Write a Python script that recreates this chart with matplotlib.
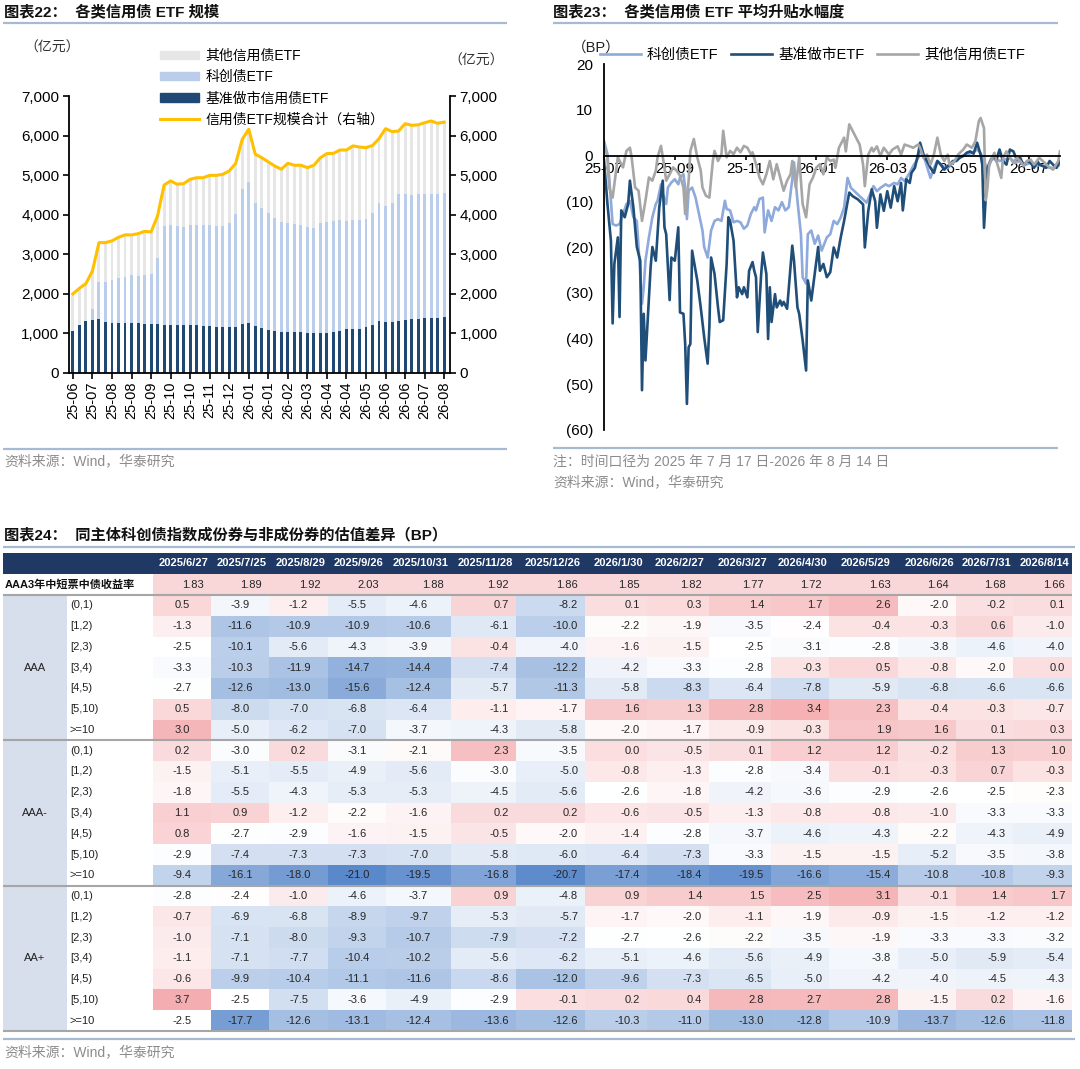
import numpy as np
import matplotlib
matplotlib.use("Agg")
import matplotlib.pyplot as plt
from matplotlib.colors import LinearSegmentedColormap, ListedColormap, TwoSlopeNorm
from matplotlib.patches import Patch, Rectangle
from matplotlib.lines import Line2D
from matplotlib.ticker import FuncFormatter

plt.rcParams['font.family'] = ['Liberation Sans', 'Noto Sans CJK SC', 'DejaVu Sans']

# ---------------- 图表22 数据 (亿元, 周度) ----------------
scale_labels = ["25-06", "25-07", "25-08", "25-08", "25-09", "25-10", "25-10", "25-11", "25-12", "26-01",
                "26-01", "26-02", "26-03", "26-04", "26-04", "26-05", "26-06", "26-06", "26-07", "26-08"]
bm_scale = [1050, 1220, 1310, 1340, 1355, 1280, 1270, 1270, 1270, 1255, 1255, 1245, 1240, 1230, 1220,
            1215, 1215, 1215, 1215, 1215, 1195, 1190, 1165, 1155, 1155, 1170, 1240, 1265, 1195, 1145,
            1085, 1060, 1035, 1035, 1035, 1030, 1005, 1005, 1010, 1010, 1030, 1070, 1105, 1110, 1110,
            1155, 1205, 1305, 1290, 1290, 1325, 1340, 1355, 1365, 1380, 1390, 1400, 1415]
kc_scale = [0, 0, 10, 270, 945, 1020, 1080, 1120, 1165, 1220, 1200, 1225, 1255, 1670, 2495,
            2525, 2500, 2475, 2515, 2515, 2535, 2540, 2550, 2560, 2645, 2840, 3400, 3560, 3110, 3030,
            2965, 2865, 2780, 2765, 2740, 2720, 2685, 2650, 2790, 2815, 2810, 2790, 2735, 2750, 2750,
            2730, 2845, 3000, 2930, 3015, 3190, 3175, 3135, 3150, 3150, 3140, 3130, 3125]
other_scale = [950, 920, 940, 970, 995, 995, 990, 1040, 1055, 1015, 1065, 1110, 1070, 1070, 1035,
               1115, 1055, 1095, 1165, 1205, 1205, 1265, 1280, 1305, 1305, 1290, 1265, 1335, 1225, 1265,
               1285, 1305, 1335, 1500, 1475, 1500, 1500, 1595, 1640, 1720, 1710, 1775, 1795, 1880, 1850,
               1810, 1700, 1615, 1955, 1795, 1600, 1785, 1770, 1755, 1795, 1840, 1780, 1800]

# ---------------- 图表23 数据 (BP, 交易日序号, 数值) ----------------
prem_ticks = [0, 41, 82, 123, 164, 205, 246]
prem_labels = ["25-07", "25-09", "25-11", "26-01", "26-03", "26-05", "26-07"]
kc_pts = [(0, 3.2), (2, 0.3), (4, -9.9), (5, -15), (7, -15.3), (9, -15), (11, -12.8), (13, -10.6), (15, -9.9),
          (17, -13.5), (19, -14.3), (20, -20), (22, -32.4), (23, -28.8), (24, -23), (26, -17.9), (28, -13.5),
          (30, -10.6), (31, -9.9), (33, -6.3), (34, -8.4), (36, -10.6), (37, -7), (39, -5.9), (41, -5.2),
          (43, -6.3), (44, -4.8), (46, -4.1), (47, -7), (48, -13.9), (49, -7.7), (51, -7), (53, -9.2),
          (55, -12.8), (57, -16.4), (58, -20), (60, -22.3), (62, -16.4), (64, -14.3), (66, -13.9), (68, -14.3),
          (70, -9.9), (71, -11.7), (73, -12), (75, -14.6), (77, -14.3), (79, -14.6), (81, -16), (83, -15.3),
          (85, -12.8), (87, -11.3), (88, -12), (90, -9.5), (92, -9.2), (93, -16.8), (95, -12), (97, -14.3),
          (99, -11.3), (101, -12), (103, -10.2), (105, -12), (107, -11.3), (109, -5.2), (110, -1.5), (112, -9.9),
          (114, -17.2), (115, -26.6), (117, -28), (118, -17.2), (120, -16.4), (122, -19.3), (124, -17.5),
          (126, -20.8), (129, -17.9), (131, -17.2), (133, -14.3), (135, -15), (137, -13.6), (139, -11.4),
          (141, -4.9), (143, -7.1), (145, -7.8), (148, -8.9), (150, -9.6), (152, -10.3), (154, -8.5),
          (156, -6.7), (158, -7.8), (160, -7.1), (163, -6.3), (165, -6.7), (168, -6), (170, -6.3), (172, -4.9),
          (174, -5.6), (177, -3.8), (179, -2.3), (182, -0.5), (183, 1.3), (186, -1.2), (189, -4.9), (191, -2.7),
          (193, -1.2), (196, -2.3), (199, -2.7), (201, -2), (204, -0.9), (207, -0.1), (210, 0.2), (213, 0.6),
          (216, 1.3), (218, 0.6), (220, -1.2), (222, -3.1), (224, -1.2), (226, -0.5), (229, -1.2), (232, -0.9),
          (235, -0.5), (238, -1.6), (241, -1.2), (244, -2), (247, -1.6), (250, -2.3), (252, -2), (255, -2.3),
          (258, -2.7), (261, -2.7), (264, -2)]
bm_pts = [(0, -1), (2, -10.6), (4, -18.6), (5, -36.7), (6, -23.7), (8, -17.9), (9, -35.3), (10, -12), (12, -13.5),
          (14, -10.6), (15, -5.5), (17, -11.3), (19, -20), (21, -23), (22, -51.3), (23, -34.6), (24, -44.8),
          (26, -31), (27, -24.4), (28, -20), (30, -23), (31, -17.2), (32, -11.3), (34, -5.5), (35, -15.7),
          (36, -17.2), (38, -31.6), (39, -22.3), (41, -23), (43, -15.7), (44, -34.3), (46, -34.6), (47, -41.2),
          (48, -54.3), (49, -41.9), (50, -41.2), (51, -20.8), (54, -27.3), (56, -33.2), (58, -39.7), (60, -45.5),
          (61, -37.5), (62, -22.3), (64, -25.9), (66, -33.2), (67, -36.4), (69, -36), (71, -23.7), (72, -13.5),
          (73, -14.3), (75, -18.6), (77, -31), (78, -28.8), (80, -30.3), (81, -28.8), (83, -31), (84, -25.2),
          (86, -23.3), (87, -25.2), (88, -26.6), (89, -38.6), (91, -25.9), (92, -21.2), (94, -25.9), (95, -40.1),
          (96, -28.8), (97, -36.4), (99, -30.3), (100, -33.2), (102, -31.7), (103, -32.8), (104, -32),
          (106, -33.5), (107, -28.8), (109, -19.7), (110, -23), (112, -33.2), (113, -34.6), (115, -40.4),
          (117, -47), (118, -27.3), (120, -31.7), (121, -28.8), (124, -20), (125, -25.2), (127, -23.7),
          (129, -26.6), (131, -25.5), (133, -20.1), (135, -22.3), (137, -18), (139, -14.3), (142, -8.1),
          (144, -8.9), (147, -9.6), (150, -10.7), (151, -20.1), (153, -12.1), (155, -7.4), (157, -10),
          (158, -15.8), (160, -8.5), (162, -12.1), (164, -7.8), (166, -11.4), (168, -6.7), (170, -10), (172, -6),
          (173, -12), (175, -5.2), (177, -6), (178, -3.8), (180, -2.7), (182, 0.6), (183, 2.8), (185, 0.2),
          (187, -1.2), (189, -2.7), (191, -3.8), (193, -1.2), (195, -2), (197, -3.1), (199, -2.3), (200, -2),
          (202, -1.2), (204, -1.2), (206, -0.5), (208, -0.1), (210, 0.6), (212, 0.9), (214, 0.4), (216, 2.8),
          (218, 0.2), (219, -2), (220, -15.8), (222, -2.7), (224, -0.9), (226, 0.2), (227, -1.2), (229, 1.3),
          (231, -1.2), (233, -2), (235, 1.3), (237, 0.9), (239, -0.9), (241, -0.5), (243, -2.3), (245, -1.2),
          (247, -1.6), (249, -2.7), (251, -1.2), (252, -2), (254, -2.3), (256, -2.7), (258, -1.2), (260, -2),
          (262, -2.7), (264, -1.2)]
ot_pts = [(0, 2.5), (2, -0.4), (3, -7), (5, -9.2), (7, -3.3), (8, -0.4), (10, -1.9), (11, -2.6), (13, 1), (15, 1.7),
          (16, -0.4), (18, -7), (20, -7.7), (22, -14.3), (24, -9.9), (26, -4.8), (28, -5.5), (30, -3.3), (31, -0.4),
          (33, 2.1), (35, -2.6), (36, -5.5), (38, -4.1), (40, -2.6), (42, -3.3), (44, -4.4), (46, -7), (47, -12.8),
          (49, -5.5), (50, 1), (52, 3.6), (54, -0.4), (56, -3.3), (57, -7), (59, -8.8), (61, -9.2), (63, -1.2),
          (64, 1), (66, -1.2), (68, 0.3), (69, 5.4), (71, -0.4), (73, 1), (75, 0.3), (77, 1.7), (79, 0.7), (81, 2.1),
          (83, 1.7), (85, 0.3), (86, 0.7), (88, -1.9), (90, -4.8), (92, -6.3), (94, -4.1), (96, -1.2), (98, -5.2),
          (100, -1.9), (102, -4.8), (104, -7.7), (106, -5.5), (108, -4.1), (109, -1.2), (111, -7), (113, -0.4),
          (115, -10.6), (117, -13.5), (119, -6.3), (121, -4.8), (123, -2.6), (125, -1.9), (127, -4.1), (129, -0.4),
          (131, -1.2), (133, -0.9), (134, -2.7), (136, 1.7), (139, 3.9), (140, 0.9), (142, 6.8), (145, 4.6),
          (148, 2.4), (150, -2), (151, -6.7), (153, 0.2), (155, 1.7), (156, 0.9), (158, 2), (160, -0.1), (162, 1.7),
          (165, 0.2), (167, 1.3), (170, 2), (172, 0.2), (174, 2.4), (177, 2), (179, 1.7), (182, 2.4), (183, 1.7),
          (185, -0.5), (187, 0.2), (189, -2), (191, 0.2), (193, 3.9), (195, 0.2), (197, -1.2), (199, 0.2), (200, -2),
          (203, -1.2), (205, 0.2), (208, 1.3), (210, 2.4), (213, 1.7), (215, 3.1), (217, 7.5), (218, 8.2), (220, 6),
          (221, -9.8), (222, -7.1), (223, -2), (226, 0.6), (227, -0.9), (230, -4.9), (231, -0.5), (233, 0.9),
          (235, -0.5), (237, -1.6), (239, -0.5), (241, -1.2), (243, -2.3), (245, -1.2), (247, -0.9), (249, -2),
          (252, -0.5), (254, -1.2), (257, -2.3), (260, -3.1), (263, -1.2), (264, 0.9)]

# ---------------- 图表24 数据 ----------------
tbl_dates = ["2025/6/27", "2025/7/25", "2025/8/29", "2025/9/26", "2025/10/31", "2025/11/28", "2025/12/26",
             "2026/1/30", "2026/2/27", "2026/3/27", "2026/4/30", "2026/5/29", "2026/6/26", "2026/7/31", "2026/8/14"]
aaa3_yield = [1.83, 1.89, 1.92, 2.03, 1.88, 1.92, 1.86, 1.85, 1.82, 1.77, 1.72, 1.63, 1.64, 1.68, 1.66]
tenors = ["(0,1)", "[1,2)", "[2,3)", "[3,4)", "[4,5)", "[5,10)", ">=10"]
ratings = ["AAA", "AAA-", "AA+"]
diff_aaa = [
    [0.5, -3.9, -1.2, -5.5, -4.6, 0.7, -8.2, 0.1, 0.3, 1.4, 1.7, 2.6, -2.0, -0.2, 0.1],
    [-1.3, -11.6, -10.9, -10.9, -10.6, -6.1, -10.0, -2.2, -1.9, -3.5, -2.4, -0.4, -0.3, 0.6, -1.0],
    [-2.5, -10.1, -5.6, -4.3, -3.9, -0.4, -4.0, -1.6, -1.5, -2.5, -3.1, -2.8, -3.8, -4.6, -4.0],
    [-3.3, -10.3, -11.9, -14.7, -14.4, -7.4, -12.2, -4.2, -3.3, -2.8, -0.3, 0.5, -0.8, -2.0, 0.0],
    [-2.7, -12.6, -13.0, -15.6, -12.4, -5.7, -11.3, -5.8, -8.3, -6.4, -7.8, -5.9, -6.8, -6.6, -6.6],
    [0.5, -8.0, -7.0, -6.8, -6.4, -1.1, -1.7, 1.6, 1.3, 2.8, 3.4, 2.3, -0.4, -0.3, -0.7],
    [3.0, -5.0, -6.2, -7.0, -3.7, -4.3, -5.8, -2.0, -1.7, -0.9, -0.3, 1.9, 1.6, 0.1, 0.3],
]
diff_aaa_minus = [
    [0.2, -3.0, 0.2, -3.1, -2.1, 2.3, -3.5, 0.0, -0.5, 0.1, 1.2, 1.2, -0.2, 1.3, 1.0],
    [-1.5, -5.1, -5.5, -4.9, -5.6, -3.0, -5.0, -0.8, -1.3, -2.8, -3.4, -0.1, -0.3, 0.7, -0.3],
    [-1.8, -5.5, -4.3, -5.3, -5.3, -4.5, -5.6, -2.6, -1.8, -4.2, -3.6, -2.9, -2.6, -2.5, -2.3],
    [1.1, 0.9, -1.2, -2.2, -1.6, 0.2, 0.2, -0.6, -0.5, -1.3, -0.8, -0.8, -1.0, -3.3, -3.3],
    [0.8, -2.7, -2.9, -1.6, -1.5, -0.5, -2.0, -1.4, -2.8, -3.7, -4.6, -4.3, -2.2, -4.3, -4.9],
    [-2.9, -7.4, -7.3, -7.3, -7.0, -5.8, -6.0, -6.4, -7.3, -3.3, -1.5, -1.5, -5.2, -3.5, -3.8],
    [-9.4, -16.1, -18.0, -21.0, -19.5, -16.8, -20.7, -17.4, -18.4, -19.5, -16.6, -15.4, -10.8, -10.8, -9.3],
]
diff_aa_plus = [
    [-2.8, -2.4, -1.0, -4.6, -3.7, 0.9, -4.8, 0.9, 1.4, 1.5, 2.5, 3.1, -0.1, 1.4, 1.7],
    [-0.7, -6.9, -6.8, -8.9, -9.7, -5.3, -5.7, -1.7, -2.0, -1.1, -1.9, -0.9, -1.5, -1.2, -1.2],
    [-1.0, -7.1, -8.0, -9.3, -10.7, -7.9, -7.2, -2.7, -2.6, -2.2, -3.5, -1.9, -3.3, -3.3, -3.2],
    [-1.1, -7.1, -7.7, -10.4, -10.2, -5.6, -6.2, -5.1, -4.6, -5.6, -4.9, -3.8, -5.0, -5.9, -5.4],
    [-0.6, -9.9, -10.4, -11.1, -11.6, -8.6, -12.0, -9.6, -7.3, -6.5, -5.0, -4.2, -4.0, -4.5, -4.3],
    [3.7, -2.5, -7.5, -3.6, -4.9, -2.9, -0.1, 0.2, 0.4, 2.8, 2.7, 2.8, -1.5, 0.2, -1.6],
    [-2.5, -17.7, -12.6, -13.1, -12.4, -13.6, -12.6, -10.3, -11.0, -13.0, -12.8, -10.9, -13.7, -12.6, -11.8],
]

# ---------------- 样式 ----------------
W, H = 1080, 1069
NAVY = '#1F4873'
LBLUE = '#BACDEA'
LGRAY = '#E6E6E6'
GOLD = '#FFC000'
RULE = '#A7BAD3'
SRC = '#8C8C8C'

fig = plt.figure(figsize=(W / 100, H / 100), dpi=100)
bg = fig.add_axes([0, 0, 1, 1])
bg.set_xlim(0, W)
bg.set_ylim(H, 0)
bg.axis('off')

title_kw = dict(fontsize=11, fontweight='bold', va='center', ha='left', color='#111111')
bg.text(4, 12, "图表22：  各类信用债 ETF 规模", **title_kw)
bg.text(553, 12, "图表23：  各类信用债 ETF 平均升贴水幅度", **title_kw)
bg.text(4, 535, "图表24：  同主体科创债指数成份券与非成份券的估值差异（BP）", **title_kw)
for x0, x1, y in [(3, 507, 23), (553, 1058, 23), (3, 507, 449), (553, 1058, 448), (3, 1075, 547), (3, 1075, 1039)]:
    bg.plot([x0, x1], [y, y], color=RULE, lw=1.6, solid_capstyle='butt')
src_kw = dict(fontsize=10, color=SRC, va='center', ha='left')
bg.text(4, 461, "资料来源：Wind，华泰研究", **src_kw)
bg.text(553, 462, "注：时间口径为 2025 年 7 月 17 日-2026 年 8 月 14 日", **src_kw)
bg.text(553, 482, "资料来源：Wind，华泰研究", **src_kw)
bg.text(4, 1052, "资料来源：Wind，华泰研究", **src_kw)

# ---------------- 图表22 ----------------
bm = np.array(bm_scale)
kc = np.array(kc_scale)
ot = np.array(other_scale)
total = bm + kc + ot
x = np.arange(len(bm))

ax1 = fig.add_axes([69 / W, 1 - 373 / H, 381 / W, 277 / H])
ax1.patch.set_visible(False)
ax1.bar(x, bm, width=0.45, color=NAVY, zorder=2)
ax1.bar(x, kc, width=0.45, bottom=bm, color=LBLUE, zorder=2)
ax1.bar(x, ot, width=0.45, bottom=bm + kc, color=LGRAY, zorder=2)
ax1.set_xlim(-0.6, len(x) - 0.1)
ax1.set_ylim(0, 7000)
ax1.set_yticks(range(0, 7001, 1000))
ax1.yaxis.set_major_formatter(FuncFormatter(lambda v, p: f"{int(v):,}"))
ax1.set_xticks(x[::3])
ax1.set_xticklabels(scale_labels, rotation=90, fontsize=10.5)
ax1.tick_params(axis='y', direction='out', length=4, labelsize=11, pad=3, width=1.2)
ax1.tick_params(axis='x', direction='out', length=4, pad=2, width=1.2)
for s in ['top', 'right']:
    ax1.spines[s].set_visible(False)
for s in ['left', 'bottom']:
    ax1.spines[s].set_linewidth(1.3)

ax1r = ax1.twinx()
ax1r.plot(x, total, color=GOLD, lw=2.2, zorder=3)
ax1r.set_ylim(0, 7000)
ax1r.set_yticks(range(0, 7001, 1000))
ax1r.yaxis.set_major_formatter(FuncFormatter(lambda v, p: f"{int(v):,}"))
ax1r.tick_params(axis='y', direction='out', length=4, labelsize=11, pad=3, width=1.2)
for s in ['top', 'left', 'bottom']:
    ax1r.spines[s].set_visible(False)
ax1r.spines['right'].set_linewidth(1.3)

bg.text(52, 48, "（亿元）", fontsize=10, ha='center', va='center', color='#333333')
bg.text(476, 61, "（亿元）", fontsize=10, ha='center', va='center', color='#333333')

h22 = [Patch(color=LGRAY), Patch(color=LBLUE), Patch(color=NAVY), Line2D([], [], color=GOLD, lw=2.2)]
l22 = ["其他信用债ETF", "科创债ETF", "基准做市信用债ETF", "信用债ETF规模合计（右轴）"]
ax1r.legend(h22, l22, loc='upper left', bbox_to_anchor=(160 / W, 1 - 49 / H), bbox_transform=fig.transFigure,
            frameon=False, fontsize=10, handlelength=2.8, handleheight=0.55, labelspacing=0.52,
            handletextpad=0.45, borderpad=0, borderaxespad=0)

# ---------------- 图表23 ----------------
kc_day, kc_bp = zip(*kc_pts)
bm_day, bm_bp = zip(*bm_pts)
ot_day, ot_bp = zip(*ot_pts)

ax2 = fig.add_axes([604 / W, 1 - 430 / H, 456 / W, 366 / H])
ax2.patch.set_visible(False)
ax2.plot(kc_day, kc_bp, color='#8EA9DB', lw=1.9, label="科创债ETF")
ax2.plot(bm_day, bm_bp, color='#1F4E79', lw=1.9, label="基准做市ETF")
ax2.plot(ot_day, ot_bp, color='#A6A6A6', lw=1.9, label="其他信用债ETF")
ax2.set_xlim(0, 264)
ax2.set_ylim(-60, 20)
ax2.set_yticks(range(-60, 21, 10))
ax2.yaxis.set_major_formatter(FuncFormatter(lambda v, p: f"({abs(int(v))})" if v < 0 else f"{int(v)}"))
ax2.tick_params(axis='y', length=0, labelsize=11, pad=8)
ax2.spines['bottom'].set_position(('data', 0))
ax2.spines['bottom'].set_linewidth(1.3)
ax2.spines['left'].set_linewidth(1.3)
for s in ['top', 'right']:
    ax2.spines[s].set_visible(False)
ax2.set_xticks(prem_ticks)
ax2.set_xticklabels(prem_labels)
ax2.tick_params(axis='x', direction='out', length=3, labelsize=11, pad=2, width=1.2)
bg.text(596, 48, "（BP）", fontsize=10.5, ha='center', va='center', color='#222222')
ax2.legend(loc='center left', bbox_to_anchor=(600 / W, 1 - 55 / H), bbox_transform=fig.transFigure, ncol=3,
           frameon=False, fontsize=10.5, handlelength=2.8, handletextpad=0.4, columnspacing=0.9,
           borderpad=0, borderaxespad=0)

# ---------------- 图表24 表格 ----------------
col_edges = np.array([153, 211, 269, 328, 386, 451, 516, 585, 647, 709, 771, 829, 898, 956, 1013, 1072])
tbl_left, grp_right = 3, 67
hdr_top, hdr_bot, yld_bot, tbl_bot = 553, 574, 595, 1031
grid = np.array(diff_aaa + diff_aaa_minus + diff_aa_plus)
nrows = grid.shape[0]
row_edges = np.linspace(yld_bot, tbl_bot, nrows + 1)
rh = row_edges[1] - row_edges[0]

bg.add_patch(Rectangle((tbl_left, hdr_top), col_edges[-1] - tbl_left, hdr_bot - hdr_top, color='#203864', lw=0))
for j, d in enumerate(tbl_dates):
    bg.text((col_edges[j] + col_edges[j + 1]) / 2 + 2, (hdr_top + hdr_bot) / 2, d, color='white',
            fontsize=8, fontweight='bold', ha='center', va='center')

bg.pcolormesh(col_edges, [hdr_bot, yld_bot], np.array([aaa3_yield]), cmap=ListedColormap(['#F9D6D8']))
bg.text(tbl_left + 2, (hdr_bot + yld_bot) / 2, "AAA3年中短票中债收益率", fontsize=8, fontweight='bold',
        ha='left', va='center', color='#111111')
for j, v in enumerate(aaa3_yield):
    bg.text(col_edges[j + 1] - 7, (hdr_bot + yld_bot) / 2, f"{v:.2f}", fontsize=8, ha='right', va='center',
            color='#262626')

cmap = LinearSegmentedColormap.from_list('tbl', ['#5A89CB', '#FFFFFF', '#F4ADB0'])
norm = TwoSlopeNorm(vmin=grid.min(), vcenter=-2.5, vmax=grid.max())
bg.pcolormesh(col_edges, row_edges, grid, cmap=cmap, norm=norm)

for g, name in enumerate(ratings):
    y0 = row_edges[g * 7]
    bg.add_patch(Rectangle((tbl_left, y0), grp_right - tbl_left, 7 * rh, color='#D7DEEC', lw=0))
    bg.text((tbl_left + grp_right) / 2, y0 + 3.5 * rh, name, fontsize=8, ha='center', va='center', color='#222222')
    for k, t in enumerate(tenors):
        bg.text(grp_right + 3, y0 + (k + 0.5) * rh, t, fontsize=8, ha='left', va='center', color='#222222')

for i in range(nrows):
    yc = (row_edges[i] + row_edges[i + 1]) / 2
    for j in range(grid.shape[1]):
        txt = f"{grid[i, j]:.1f}"
        if j < 5:
            bg.text((col_edges[j] + col_edges[j + 1]) / 2, yc, txt, fontsize=8, ha='center', va='center',
                    color='#262626')
        else:
            bg.text(col_edges[j + 1] - 7, yc, txt, fontsize=8, ha='right', va='center', color='#262626')

for y in [yld_bot, row_edges[7], row_edges[14], tbl_bot]:
    bg.plot([tbl_left, col_edges[-1]], [y, y], color='#A6A6A6', lw=1.5, solid_capstyle='butt')

fig.savefig("out.png", dpi=100)
